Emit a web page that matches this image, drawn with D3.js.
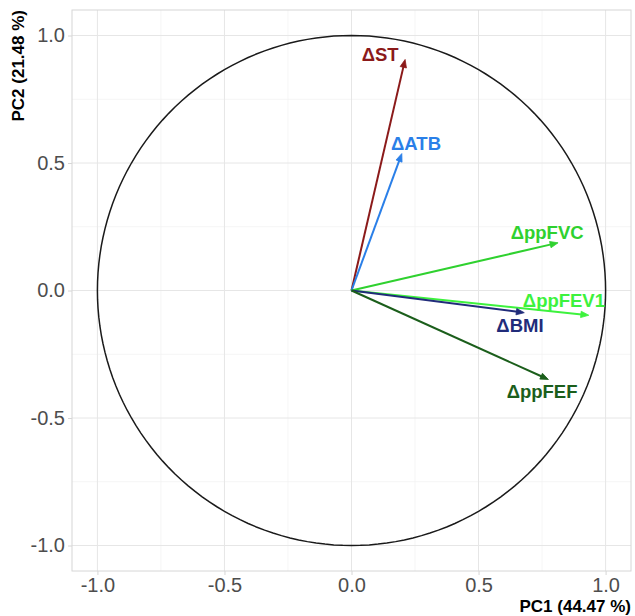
<!DOCTYPE html>
<html>
<head>
<meta charset="utf-8">
<script src="https://cdn.jsdelivr.net/npm/d3@7"></script>
<style>
  body { margin: 0; background: #fff; }
  text { font-family: "Liberation Sans", Arial, sans-serif; }
</style>
</head>
<body>
<div id="chart"></div>
<script>
// variables (loadings on PC1 / PC2)
var varNames = ['\u0394ST', '\u0394ATB', '\u0394ppFVC', '\u0394ppFEV1', '\u0394BMI', '\u0394ppFEF'];
var pc1 = [0.211, 0.198, 0.813, 0.934, 0.680, 0.775];
var pc2 = [0.906, 0.537, 0.187, -0.097, -0.087, -0.349];
var varColors = ['#8b1a1a', '#2a7fe8', '#2fd12f', '#3df23d', '#212c7a', '#1b5e1b'];
// label anchor points (data units)
var labX = [0.113, 0.254, 0.770, 0.836, 0.663, 0.750];
var labY = [0.925, 0.578, 0.230, -0.039, -0.137, -0.395];

var ticks = [-1.0, -0.5, 0.0, 0.5, 1.0];
var minorTicks = [-0.75, -0.25, 0.25, 0.75];
var xTitle = 'PC1 (44.47 %)';
var yTitle = 'PC2 (21.48 %)';

var width = 635, height = 616;
var panel = {left: 72, right: 631, top: 10, bottom: 571};

var svg = d3.select('#chart').append('svg')
  .attr('width', width)
  .attr('height', height);

var x = d3.scaleLinear().domain([-1.1, 1.1]).range([panel.left, panel.right]);
var y = d3.scaleLinear().domain([-1.1, 1.1]).range([panel.bottom, panel.top]);

// grid
var grid = svg.append('g');
grid.selectAll('.minx').data(minorTicks).enter().append('line')
  .attr('x1', function(d){ return x(d); }).attr('x2', function(d){ return x(d); })
  .attr('y1', panel.top).attr('y2', panel.bottom)
  .attr('stroke', '#f2f2f2').attr('stroke-width', 0.8);
grid.selectAll('.miny').data(minorTicks).enter().append('line')
  .attr('y1', function(d){ return y(d); }).attr('y2', function(d){ return y(d); })
  .attr('x1', panel.left).attr('x2', panel.right)
  .attr('stroke', '#f2f2f2').attr('stroke-width', 0.8);
grid.selectAll('.majx').data(ticks).enter().append('line')
  .attr('x1', function(d){ return x(d); }).attr('x2', function(d){ return x(d); })
  .attr('y1', panel.top).attr('y2', panel.bottom)
  .attr('stroke', '#e6e6e6').attr('stroke-width', 1);
grid.selectAll('.majy').data(ticks).enter().append('line')
  .attr('y1', function(d){ return y(d); }).attr('y2', function(d){ return y(d); })
  .attr('x1', panel.left).attr('x2', panel.right)
  .attr('stroke', '#e6e6e6').attr('stroke-width', 1);

svg.append('rect')
  .attr('x', panel.left).attr('y', panel.top)
  .attr('width', panel.right - panel.left).attr('height', panel.bottom - panel.top)
  .attr('fill', 'none').attr('stroke', '#d6d6d6').attr('stroke-width', 1);

// axes (plain hyphen for negatives, like the original)
var fmt = function(d){ return d3.format('.1f')(d).replace('\u2212', '-'); };
var xAxis = svg.append('g')
  .attr('transform', 'translate(0,' + panel.bottom + ')')
  .call(d3.axisBottom(x).tickValues(ticks).tickFormat(fmt).tickSize(4).tickPadding(3));
var yAxis = svg.append('g')
  .attr('transform', 'translate(' + panel.left + ',0)')
  .call(d3.axisLeft(y).tickValues(ticks).tickFormat(fmt).tickSize(4).tickPadding(3));
[xAxis, yAxis].forEach(function(a){
  a.select('.domain').remove();
  a.selectAll('.tick line').attr('stroke', '#d6d6d6');
  a.selectAll('.tick text')
    .attr('fill', '#4d4d4d')
    .style('font-size', '20px')
    .style('font-family', '"Liberation Sans", Arial, sans-serif');
});

svg.append('text')
  .attr('x', panel.right).attr('y', 612)
  .attr('text-anchor', 'end')
  .attr('font-weight', 'bold').attr('font-size', '17px')
  .attr('fill', '#000')
  .text(xTitle);
svg.append('text')
  .attr('transform', 'translate(24,' + panel.top + ') rotate(-90)')
  .attr('text-anchor', 'end')
  .attr('font-weight', 'bold').attr('font-size', '17px')
  .attr('fill', '#000')
  .text(yTitle);

// correlation circle
var circ = d3.range(0, 361, 2).map(function(a){
  var r = a * Math.PI / 180;
  return [Math.cos(r), Math.sin(r)];
});
svg.append('path')
  .attr('d', d3.line().x(function(d){ return x(d[0]); }).y(function(d){ return y(d[1]); })(circ))
  .attr('fill', 'none').attr('stroke', '#1a1a1a').attr('stroke-width', 1.5);

// arrows
var vars = varNames.map(function(n, i){
  return {name: n, x: pc1[i], y: pc2[i], color: varColors[i], lx: labX[i], ly: labY[i]};
});
var ag = svg.append('g');
vars.forEach(function(d){
  var x0 = x(0), y0 = y(0), x1 = x(d.x), y1 = y(d.y);
  var ang = Math.atan2(y1 - y0, x1 - x0);
  var L = 8, W = 3.2;
  ag.append('line')
    .attr('x1', x0).attr('y1', y0)
    .attr('x2', x1 - Math.cos(ang) * L * 0.6).attr('y2', y1 - Math.sin(ang) * L * 0.6)
    .attr('stroke', d.color).attr('stroke-width', 2);
  var bx = x1 - Math.cos(ang) * L, by = y1 - Math.sin(ang) * L;
  var pts = [
    [x1, y1],
    [bx + Math.sin(ang) * W, by - Math.cos(ang) * W],
    [bx - Math.sin(ang) * W, by + Math.cos(ang) * W]
  ];
  ag.append('polygon')
    .attr('points', pts.map(function(p){ return p.join(','); }).join(' '))
    .attr('fill', d.color).attr('stroke', d.color).attr('stroke-width', 0.8);
});

svg.append('g').selectAll('text').data(vars).enter().append('text')
  .attr('x', function(d){ return x(d.lx); })
  .attr('y', function(d){ return y(d.ly); })
  .attr('dy', '0.36em')
  .attr('text-anchor', 'middle')
  .attr('font-weight', 'bold').attr('font-size', '18.5px')
  .attr('fill', function(d){ return d.color; })
  .text(function(d){ return d.name; });
</script>
</body>
</html>
